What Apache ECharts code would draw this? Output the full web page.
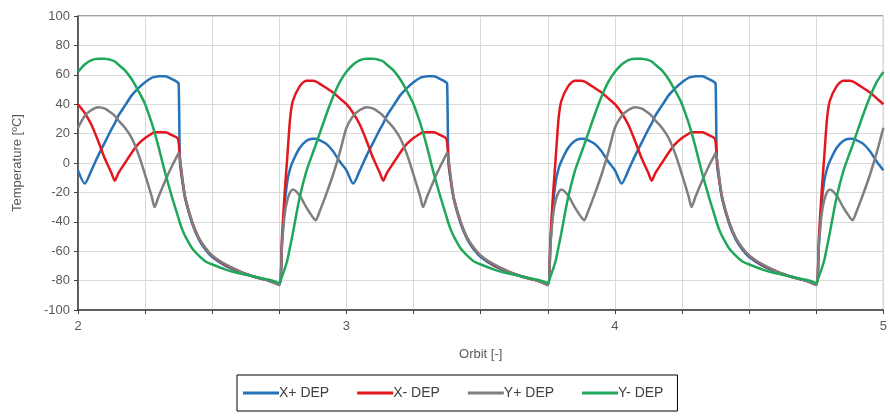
<!DOCTYPE html>
<html>
<head>
<meta charset="utf-8">
<script src="https://cdn.jsdelivr.net/npm/echarts@6/dist/echarts.min.js"></script>
<style>
  html, body { margin: 0; padding: 0; background: #fff; }
  #chart { width: 890px; height: 419px; }
</style>
</head>
<body>
<div id="chart"></div>
<script>
// orbits shown on the x axis (each one repeats the same thermal cycle)
var orbits = [2, 3, 4]
// position inside one orbit
var phase = [0, 0.025, 0.05, 0.075, 0.1, 0.125, 0.137, 0.15, 0.175, 0.2, 0.225, 0.25, 0.275, 0.285, 0.3, 0.325, 0.35, 0.37, 0.375, 0.38, 0.39, 0.4, 0.425, 0.45, 0.475, 0.5, 0.55, 0.6, 0.65, 0.7, 0.725, 0.75, 0.76, 0.77, 0.78, 0.79, 0.8, 0.825, 0.85, 0.875, 0.885, 0.9, 0.925, 0.95, 0.975, 1]
// temperatures [ºC], one value per phase point
var xPlusDep = [-5, -14, -5, 5, 14, 23, 27, 32, 39, 46, 51, 55, 58, 58.5, 59, 59, 57, 55, 54, 0, -14, -25, -41, -52, -59, -64, -70, -74, -77, -79.5, -81, -83, -55, -28, -12, -4, 1, 10, 15, 16.5, 16.5, 15.5, 13, 8, 1, -5]
var xMinusDep = [40, 34, 26, 15, 3, -7, -12, -7, 0, 7, 13, 17, 20, 21, 21, 21, 19, 17, 14, 2, -13, -24, -40, -51, -58, -63, -69.5, -73.5, -77, -79.5, -81, -83, -50, -20, 5, 30, 42, 52, 56, 56, 55.5, 54, 51, 48, 44, 40]
var yPlusDep = [24, 32, 36, 38, 37, 34, 32, 29, 24, 17, 6, -8, -23, -30, -23, -12, -2, 5, 7, 3, -12, -24, -40, -51, -58, -63, -69, -73.5, -77, -79.5, -81, -83, -55, -35, -25, -20, -18, -22, -30, -37, -39, -33, -21, -8, 7, 24]
var yMinusDep = [62, 67, 70, 71, 71, 70, 69, 67, 63, 57, 49, 40, 27, 21, 11, -7, -23, -35, -38, -41, -46, -50, -58, -63, -67, -69, -72.5, -75, -77, -79, -80, -81.5, -77, -72, -66, -57, -48, -24, -6, 7, 12, 20, 33, 45, 55, 62]

var seriesNames = ['X+ DEP', 'X- DEP', 'Y+ DEP', 'Y- DEP']
var seriesColors = ['#2672b8', '#e3171d', '#7f7f7f', '#1fa85a']

function toPoints(values) {
  var pts = []
  orbits.forEach(function(o, k) {
    phase.forEach(function(p, i) {
      if (k > 0 && i === 0) return // same point as the previous orbit's end
      pts.push([o + p, values[i]])
    })
  })
  return pts
}

var chart = echarts.init(document.getElementById('chart'))
var font = '"Liberation Sans", Arial, sans-serif'

chart.setOption({
  animation: false,
  textStyle: { fontFamily: font },
  grid: {
    left: 78,
    right: 5,
    top: 16,
    bottom: 109,
    show: true,
    borderColor: '#404040',
    borderWidth: 1
  },
  legend: {
    bottom: 8,
    left: 237,
    icon: 'rect',
    itemWidth: 36,
    itemHeight: 3,
    itemGap: 28,
    padding: [11, 14, 11, 6],
    borderColor: '#000',
    borderWidth: 1,
    textStyle: { color: '#404040', fontSize: 14, padding: [0, 0, 0, -5] },
    data: seriesNames
  },
  xAxis: {
    type: 'value',
    min: 2,
    max: 5,
    interval: 0.25,
    name: 'Orbit [-]',
    nameLocation: 'middle',
    nameGap: 38,
    nameTextStyle: { color: '#595959', fontSize: 13 },
    axisLine: { onZero: false, lineStyle: { color: '#404040', width: 1.5 } },
    axisTick: { show: true, length: 4, lineStyle: { color: '#404040' } },
    axisLabel: {
      color: '#595959',
      fontSize: 13,
      margin: 10,
      formatter: function(v) {
        return Math.abs(v - Math.round(v)) < 1e-6 ? String(Math.round(v)) : ''
      }
    },
    splitLine: { show: true, lineStyle: { color: '#d9d9d9', width: 1 } }
  },
  yAxis: {
    type: 'value',
    min: -100,
    max: 100,
    interval: 20,
    name: 'Temperature [ºC]',
    nameLocation: 'middle',
    nameGap: 54,
    nameTextStyle: { color: '#595959', fontSize: 13 },
    axisLine: { show: true, lineStyle: { color: '#404040', width: 1.5 } },
    axisTick: { show: true, length: 4, lineStyle: { color: '#404040' } },
    axisLabel: { color: '#595959', fontSize: 13, margin: 8 },
    splitLine: { lineStyle: { color: '#d9d9d9', width: 1 } }
  },
  series: [xPlusDep, xMinusDep, yPlusDep, yMinusDep].map(function(vals, i) {
    return {
      name: seriesNames[i],
      type: 'line',
      showSymbol: false,
      smooth: 0.25,
      color: seriesColors[i],
      lineStyle: { width: 2.5, color: seriesColors[i] },
      data: toPoints(vals)
    }
  })
})
</script>
</body>
</html>
